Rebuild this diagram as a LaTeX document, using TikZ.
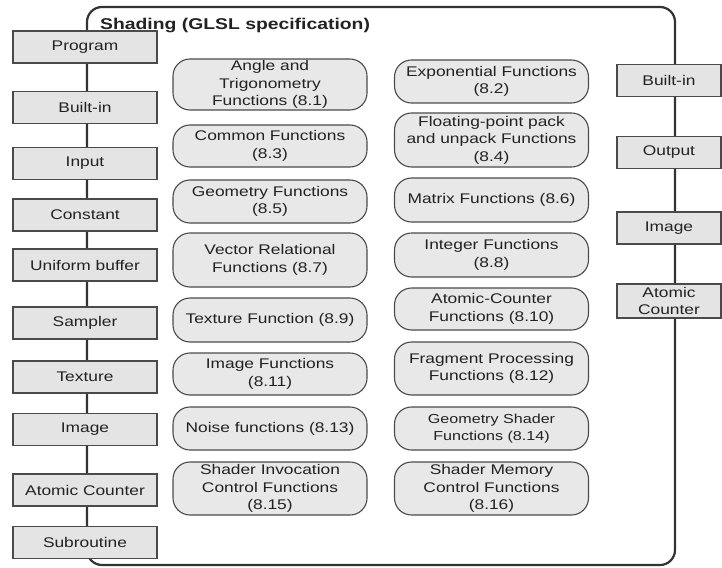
\documentclass[tikz,border=0pt]{standalone}
\usepackage{fontspec}
\setmainfont[FakeStretch=1.24]{Liberation Sans}
\definecolor{txt}{HTML}{222222}
\definecolor{edge}{HTML}{4A4A4A}
\definecolor{frameline}{HTML}{333333}
\definecolor{boxfill}{HTML}{E4E4E4}
\definecolor{fnfill}{HTML}{E8E8E8}
\begin{document}
\begin{tikzpicture}[x=1pt,y=-1pt,
  every node/.style={font=\fontsize{14}{17.5}\selectfont, text=txt},
  sqbox/.style={draw=edge, line width=1.1pt, fill=boxfill, minimum width=144pt,
    minimum height=32pt, inner sep=0pt, align=center},
  rbox/.style={sqbox, minimum width=104pt},
  fnbox/.style={draw=edge, line width=1.1pt, fill=fnfill, rounded corners=17pt,
    minimum width=194pt, inner sep=0pt, align=center},
  hh/.style={minimum height=#1pt}]
\useasboundingbox (0,0) rectangle (722,567);
\fill[white] (0,0) rectangle (722,567);

% outer frame of the shading stage
\node[draw=frameline, line width=2.2pt, rounded corners=15pt, inner sep=0pt,
  minimum width=588pt, minimum height=558pt] (frame) at (381,286) {};
\node[anchor=base west, inner sep=0pt, font=\bfseries\fontsize{15.6}{19}\selectfont] (title)
  at (100,30) {Shading (GLSL specification)};

% inputs along the left edge
\node[sqbox] (program)  at (85,47)    {Program};
\node[sqbox] (builtinL) at (85,107.5) {Built-in};
\node[sqbox] (input)    at (85,163.5) {Input};
\node[sqbox] (constant) at (85,215)   {Constant};
\node[sqbox] (uniform)  at (85,265)   {Uniform buffer};
\node[sqbox] (sampler)  at (85,323)   {Sampler};
\node[sqbox] (texture)  at (85,377)   {Texture};
\node[sqbox] (imageL)   at (85,429.5) {Image};
\node[sqbox] (atomicL)  at (85,490)   {Atomic Counter};
\node[sqbox] (subr)     at (85,542.5) {Subroutine};

% outputs along the right edge
\node[rbox] (builtinR) at (669,80.5) {Built-in};
\node[rbox] (output)   at (669,152.5) {Output};
\node[rbox] (imageR)   at (669,228)  {Image};
\node[rbox, hh=34] (atomicR) at (669,301) {Atomic\\Counter};

% built-in function groups, first column
\node[fnbox, hh=51] (f1)  at (270,84.5)  {Angle and\\Trigonometry\\Functions (8.1)};
\node[fnbox, hh=42] (f3)  at (270,146)   {Common Functions\\(8.3)};
\node[fnbox, hh=43] (f5)  at (270,201.5) {Geometry Functions\\(8.5)};
\node[fnbox, hh=54] (f7)  at (270,260)   {Vector Relational\\Functions (8.7)};
\node[fnbox, hh=44] (f9)  at (270,320)   {Texture Function (8.9)};
\node[fnbox, hh=42] (f11) at (270,374)   {Image Functions\\(8.11)};
\node[fnbox, hh=43] (f13) at (270,428.5) {Noise functions (8.13)};
\node[fnbox, hh=53] (f15) at (270,488.5) {Shader Invocation\\Control Functions\\(8.15)};

% built-in function groups, second column
\node[fnbox, hh=43] (f2)  at (491.5,81.5)  {Exponential Functions\\(8.2)};
\node[fnbox, hh=54] (f4)  at (491.5,140)   {Floating-point pack\\and unpack Functions\\(8.4)};
\node[fnbox, hh=44] (f6)  at (491.5,200)   {Matrix Functions (8.6)};
\node[fnbox, hh=44] (f8)  at (491.5,255)   {Integer Functions\\(8.8)};
\node[fnbox, hh=42] (f10) at (491.5,309)   {Atomic-Counter\\Functions (8.10)};
\node[fnbox, hh=53] (f12) at (491.5,368.5) {Fragment Processing\\Functions (8.12)};
\node[fnbox, hh=43, font=\fontsize{13}{16.5}\selectfont] (f14) at (491.5,428.5)
  {Geometry Shader\\Functions (8.14)};
\node[fnbox, hh=53] (f16) at (491.5,488.5) {Shader Memory\\Control Functions\\(8.16)};
\end{tikzpicture}
\end{document}
